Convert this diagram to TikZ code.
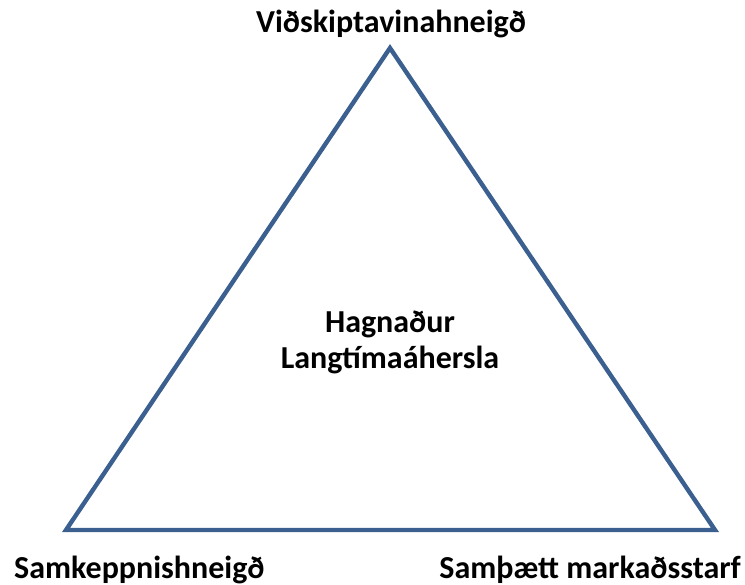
\documentclass[tikz,border=0pt]{standalone}
\usepackage{fontspec}
\setmainfont{Carlito}
\definecolor{linublar}{HTML}{3B6090}

\begin{document}
\begin{tikzpicture}[x=1pt, y=-1pt]
\tikzset{merki/.style={font=\fontsize{32}{38}\selectfont\bfseries, inner sep=0pt, anchor=base}}
\useasboundingbox (0, 0) rectangle (745, 585);
\coordinate (T) at (390, 48);
\coordinate (L) at (66, 530);
\coordinate (R) at (715, 530);
\draw[linublar, line width=4.4pt, line join=miter] (T) -- (L) -- (R) -- cycle;
\node[merki] (V) at (391, 33) {Viðskiptavinahneigð};
\node[merki] (H) at (390, 333) {Hagnaður};
\node[merki] (G) at (390, 369) {Langtímaáhersla};
\node[merki, anchor=base west] (S) at (14, 578) {Samkeppnishneigð};
\node[merki, anchor=base east] (M) at (741, 578) {Samþætt markaðsstarf};
\end{tikzpicture}
\end{document}
